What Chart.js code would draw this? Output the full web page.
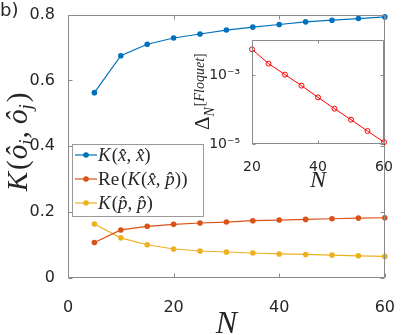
<!DOCTYPE html>
<html><head><meta charset="utf-8">
<script src="https://cdn.jsdelivr.net/npm/chart.js@4/dist/chart.umd.min.js"></script>
<style>
html,body{margin:0;padding:0;background:#fff;overflow:hidden;}
#wrap{position:relative;width:407px;height:335px;}
#main{position:absolute;left:0;top:0;}
#inset{position:absolute;left:190px;top:28px;}
</style></head><body>
<div id="wrap"><canvas id="main" width="407" height="335"></canvas><canvas id="inset" width="210" height="170"></canvas></div>
<script>
// ---- data ----
const N_main = [5, 10, 15, 20, 25, 30, 35, 40, 45, 50, 55, 60];
const K_xx   = [0.563, 0.675, 0.710, 0.729, 0.741, 0.753, 0.762, 0.770, 0.778, 0.783, 0.788, 0.793];
const ReK_xp = [0.108, 0.146, 0.157, 0.163, 0.167, 0.170, 0.174, 0.176, 0.178, 0.180, 0.182, 0.183];
const K_pp   = [0.164, 0.122, 0.101, 0.088, 0.082, 0.079, 0.076, 0.073, 0.0715, 0.0695, 0.0675, 0.0656];
const mainXTicks = [0, 20, 40, 60];
const mainYTicks = [0, 0.2, 0.4, 0.6, 0.8];
const N_inset = [20, 25, 30, 35, 40, 45, 50, 55, 60];
const delta_floquet = [5.5e-3, 2.13e-3, 1.02e-3, 4.9e-4, 2.24e-4, 1.05e-4, 5.06e-5, 2.37e-5, 1.13e-5];
const insetXTicks = [20, 40, 60];
const insetYTicks = [1e-5, 1e-3];

// ---- styles ----
const BLUE = '#0072BD', ORANGE = '#D95319', YELLOW = '#EDB120', RED = '#FF0000';
const AXIS = '#8a8a8a', TXT = '#262626';
const SERIF = "'Liberation Serif'";
const it = s => 'italic ' + s + 'px ' + SERIF;
const up = s => s + 'px ' + SERIF;

function richWidth(ctx, segs) {
  let w = 0;
  for (const s of segs) { ctx.font = s.f; w += ctx.measureText(s.t).width + (s.k || 0); }
  return w;
}
function drawRich(ctx, segs, x, y) {
  let cx = x;
  ctx.textBaseline = 'alphabetic'; ctx.textAlign = 'left';
  for (const s of segs) {
    ctx.font = s.f;
    ctx.fillText(s.t, cx, y + (s.dy || 0));
    cx += ctx.measureText(s.t).width + (s.k || 0);
  }
  return cx - x;
}
function boxAndTicks(chart, xTicks, yTicks, len) {
  const {ctx, chartArea: a, scales} = chart;
  const L = Math.round(a.left) + 0.5, R = Math.round(a.right) - 0.5;
  const T = Math.round(a.top) + 0.5, B = Math.round(a.bottom) - 0.5;
  ctx.save();
  ctx.strokeStyle = AXIS; ctx.lineWidth = 1;
  ctx.beginPath();
  ctx.rect(L, T, R - L, B - T);
  for (const v of xTicks) {
    const px = Math.round(scales.x.getPixelForValue(v)) + 0.5;
    ctx.moveTo(px, B); ctx.lineTo(px, B - len);
    ctx.moveTo(px, T); ctx.lineTo(px, T + len);
  }
  for (const v of yTicks) {
    const py = Math.round(scales.y.getPixelForValue(v)) + 0.5;
    ctx.moveTo(L, py); ctx.lineTo(L + len, py);
    ctx.moveTo(R, py); ctx.lineTo(R - len, py);
  }
  ctx.stroke();
  ctx.restore();
}

const mainDecor = {
  id: 'mainDecor',
  afterDraw(chart) {
    const ctx = chart.ctx;
    boxAndTicks(chart, mainXTicks, mainYTicks, 4);
    ctx.save();
    ctx.fillStyle = TXT;
    // panel label
    ctx.font = "18px 'DejaVu Sans'"; ctx.textBaseline = 'alphabetic'; ctx.textAlign = 'left';
    ctx.fillText('b)', 0, 16);
    // x label
    const nSeg = [{t: 'N', f: it(32)}];
    const nw = richWidth(ctx, nSeg);
    drawRich(ctx, nSeg, (chart.chartArea.left + chart.chartArea.right) / 2 - nw / 2, 333);
    // y label
    const ySeg = [
      {t: 'K', f: it(29), k: 2}, {t: '(', f: up(29), k: 1},
      {t: '\u00f4', f: it(29)}, {t: 'i', f: it(19), dy: 5, k: 1}, {t: ', ', f: up(29)},
      {t: '\u00f4', f: it(29)}, {t: 'j', f: it(19), dy: 5, k: 2}, {t: ')', f: up(29)}
    ];
    const yw = richWidth(ctx, ySeg);
    ctx.save();
    ctx.translate(27, 142);
    ctx.rotate(-Math.PI / 2);
    drawRich(ctx, ySeg, -yw / 2, 0);
    ctx.restore();
    // legend
    const lx = 72.5, ly = 144.5, lw = 131, lh = 72;
    ctx.fillStyle = '#fff'; ctx.fillRect(lx, ly, lw, lh);
    ctx.strokeStyle = '#9a9a9a'; ctx.lineWidth = 1; ctx.strokeRect(lx, ly, lw, lh);
    const items = [
      {c: BLUE, y: 155, segs: [{t: 'K', f: it(19), k: 1}, {t: '(', f: up(19)}, {t: 'x\u0302', f: it(19)}, {t: ', ', f: up(19)}, {t: 'x\u0302', f: it(19)}, {t: ')', f: up(19)}]},
      {c: ORANGE, y: 179, segs: [{t: 'Re', f: up(19), k: 2}, {t: '(', f: up(19)}, {t: 'K', f: it(19), k: 1}, {t: '(', f: up(19)}, {t: 'x\u0302', f: it(19)}, {t: ', ', f: up(19)}, {t: 'p\u0302', f: it(19)}, {t: '))', f: up(19)}]},
      {c: YELLOW, y: 203, segs: [{t: 'K', f: it(19), k: 1}, {t: '(', f: up(19)}, {t: 'p\u0302', f: it(19)}, {t: ', ', f: up(19)}, {t: 'p\u0302', f: it(19)}, {t: ')', f: up(19)}]}
    ];
    for (const itm of items) {
      ctx.strokeStyle = itm.c; ctx.lineWidth = 1.2;
      ctx.beginPath(); ctx.moveTo(75, itm.y); ctx.lineTo(97, itm.y); ctx.stroke();
      ctx.fillStyle = itm.c;
      ctx.beginPath(); ctx.arc(86, itm.y, 2.8, 0, Math.PI * 2); ctx.fill();
      ctx.fillStyle = TXT;
      drawRich(ctx, itm.segs, 98, itm.y + 6);
    }
    ctx.restore();
  }
};

function series(xs, ys, color) {
  return {
    data: xs.map((x, i) => ({x: x, y: ys[i]})),
    borderColor: color, backgroundColor: color, borderWidth: 1.2,
    pointRadius: 2.8, pointBorderWidth: 0, pointHoverRadius: 2.8, clip: false, tension: 0
  };
}

new Chart(document.getElementById('main'), {
  type: 'line',
  data: {datasets: [series(N_main, K_xx, BLUE), series(N_main, ReK_xp, ORANGE), series(N_main, K_pp, YELLOW)]},
  options: {
    responsive: false, animation: false, devicePixelRatio: 1, events: [],
    layout: {padding: {top: 10, right: 10, left: 0, bottom: 0}},
    plugins: {legend: {display: false}, tooltip: {enabled: false}},
    scales: {
      x: {
        type: 'linear', min: 0, max: 60,
        afterBuildTicks: s => { s.ticks = mainXTicks.map(v => ({value: v})); },
        afterFit: s => { s.height = 57; },
        grid: {display: false}, border: {display: false},
        ticks: {padding: 12, color: TXT, font: {family: 'DejaVu Sans', size: 16}, autoSkip: false, maxRotation: 0, callback: v => String(v)}
      },
      y: {
        type: 'linear', min: 0, max: 0.8,
        afterBuildTicks: s => { s.ticks = mainYTicks.map(v => ({value: v})); },
        afterFit: s => { s.width = 68; },
        grid: {display: false}, border: {display: false},
        ticks: {padding: 5, color: TXT, font: {family: 'DejaVu Sans', size: 16}, autoSkip: false, callback: v => (v === 0 ? '0' : v.toFixed(1))}
      }
    }
  },
  plugins: [mainDecor]
});

// ---- inset ----
const SUP = {'-': '\u207b', '0': '\u2070', '1': '\u00b9', '2': '\u00b2', '3': '\u00b3', '4': '\u2074', '5': '\u2075', '6': '\u2076', '7': '\u2077', '8': '\u2078', '9': '\u2079'};
const supStr = s => String(s).split('').map(c => SUP[c] || c).join('');

const insetDecor = {
  id: 'insetDecor',
  beforeDraw(chart) {
    const {ctx, chartArea: a} = chart;
    ctx.save(); ctx.fillStyle = '#fff';
    ctx.fillRect(a.left, a.top, a.right - a.left, a.bottom - a.top);
    ctx.restore();
  },
  afterDraw(chart) {
    const ctx = chart.ctx;
    boxAndTicks(chart, insetXTicks, insetYTicks, 3);
    ctx.save();
    ctx.fillStyle = TXT;
    const nSeg = [{t: 'N', f: it(24)}];
    const nw = richWidth(ctx, nSeg);
    drawRich(ctx, nSeg, (chart.chartArea.left + chart.chartArea.right) / 2 - nw / 2, 158.5);
    // y label
    ctx.save();
    ctx.translate(19, 102);
    ctx.rotate(-Math.PI / 2);
    drawRich(ctx, [
      {t: '\u0394', f: up(21), k: 0},
      {t: 'N', f: it(14), dy: 5, k: 1},
      {t: '[', f: up(14), dy: -5}, {t: 'Floquet', f: it(14), dy: -5}, {t: ']', f: up(14), dy: -5}
    ], 0, 0);
    ctx.restore();
    ctx.restore();
  }
};

new Chart(document.getElementById('inset'), {
  type: 'line',
  data: {datasets: [{
    data: N_inset.map((x, i) => ({x: x, y: delta_floquet[i]})),
    borderColor: RED, backgroundColor: '#fff', borderWidth: 1,
    pointRadius: 2.5, pointBorderWidth: 1, pointBorderColor: RED, pointBackgroundColor: 'rgba(255,255,255,0)',
    clip: false, tension: 0
  }]},
  options: {
    responsive: false, animation: false, devicePixelRatio: 1, events: [],
    layout: {padding: {top: 7, right: 16, left: 0, bottom: 0}},
    plugins: {legend: {display: false}, tooltip: {enabled: false}},
    scales: {
      x: {
        type: 'linear', min: 20, max: 60,
        afterBuildTicks: s => { s.ticks = insetXTicks.map(v => ({value: v})); },
        afterFit: s => { s.height = 54; },
        grid: {display: false}, border: {display: false},
        ticks: {padding: 7, color: TXT, font: {family: 'DejaVu Sans', size: 14}, autoSkip: false, maxRotation: 0, callback: v => String(v)}
      },
      y: {
        type: 'logarithmic', min: 1e-5, max: 1e-2,
        afterBuildTicks: s => { s.ticks = insetYTicks.map(v => ({value: v})); },
        afterFit: s => { s.width = 62; },
        grid: {display: false}, border: {display: false},
        ticks: {padding: 4, color: TXT, font: {family: 'DejaVu Sans', size: 14}, autoSkip: false, callback: v => '10' + supStr(Math.round(Math.log10(v)))}
      }
    }
  },
  plugins: [insetDecor]
});
</script>
</body></html>
